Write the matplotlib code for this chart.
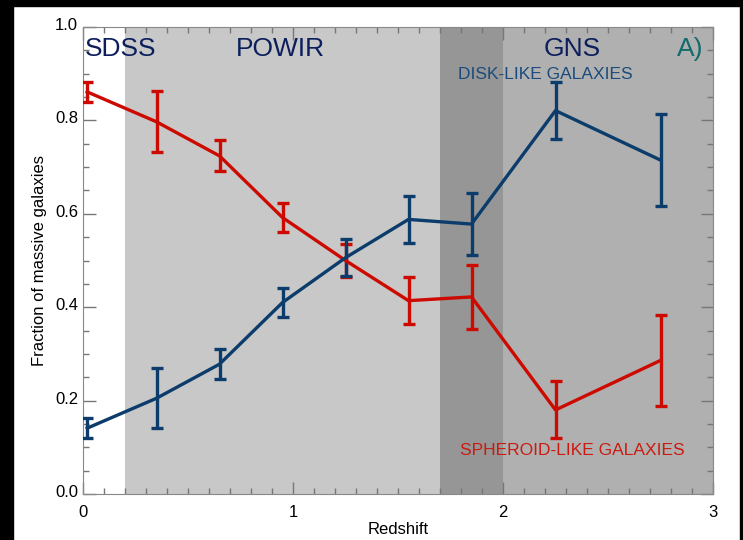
import matplotlib
matplotlib.use('Agg')
import matplotlib.pyplot as plt
import matplotlib.transforms as mtransforms
from matplotlib.ticker import MultipleLocator

plt.rcParams['font.family'] = ['Liberation Sans', 'DejaVu Sans']

# data
redshift = [0.02, 0.35, 0.65, 0.95, 1.25, 1.55, 1.85, 2.25, 2.75]
spheroid = [0.861, 0.797, 0.724, 0.592, 0.500, 0.414, 0.422, 0.180, 0.286]
spheroid_err = [0.022, 0.065, 0.033, 0.031, 0.035, 0.051, 0.068, 0.061, 0.097]
disk = [0.141, 0.205, 0.278, 0.410, 0.506, 0.588, 0.578, 0.821, 0.715]
disk_err = [0.022, 0.064, 0.032, 0.031, 0.040, 0.050, 0.066, 0.061, 0.098]

# survey coverage bands (start, end, colour)
surveys = [(0.2, 1.7, '#c8c8c8'), (1.7, 2.0, '#969696'), (2.0, 3.0, '#b0b0b0')]

blue = '#0b3c6b'
red = '#cc0a00'

fig = plt.figure(figsize=(7.43, 5.40), dpi=100)
# black frame edges like the original screenshot
fig.patches.append(plt.Rectangle((0, 0), 13 / 743, 1, transform=fig.transFigure, color='black', zorder=-1))
fig.patches.append(plt.Rectangle((0, 1 - 6 / 540), 1, 6 / 540, transform=fig.transFigure, color='black', zorder=-1))
fig.patches.append(plt.Rectangle((740 / 743, 0), 3 / 743, 1, transform=fig.transFigure, color='black', zorder=-1))

ax = fig.add_axes([83 / 743, 1 - 494 / 540, 630 / 743, 467 / 540])

for x0, x1, c in surveys:
    ax.axvspan(x0, x1, color=c, lw=0, zorder=0)

ax.errorbar(redshift, spheroid, yerr=spheroid_err, color=red, lw=2.4,
            elinewidth=2.4, capsize=4, capthick=2.4, zorder=3)
ax.errorbar(redshift, disk, yerr=disk_err, color=blue, lw=2.4,
            elinewidth=2.4, capsize=4, capthick=2.4, zorder=3)

ax.text(0.01, 0.952, 'SDSS', color='#0c1f5c', fontsize=19, va='center', ha='left')
ax.text(0.94, 0.952, 'POWIR', color='#0c1f5c', fontsize=19, va='center', ha='center')
ax.text(2.33, 0.952, 'GNS', color='#0c1f5c', fontsize=19, va='center', ha='center')
ax.text(2.89, 0.952, 'A)', color='#136b6b', fontsize=19, va='center', ha='center')
ax.text(2.2, 0.898, 'DISK-LIKE GALAXIES', color='#1a4b7c', fontsize=12.5, va='center', ha='center')
ax.text(2.33, 0.094, 'SPHEROID-LIKE GALAXIES', color='#cc1a10', fontsize=12.5, va='center', ha='center')

ax.set_xlim(0, 3)
ax.set_ylim(0, 1)
ax.xaxis.set_major_locator(MultipleLocator(1))
ax.xaxis.set_minor_locator(MultipleLocator(0.1))
ax.yaxis.set_major_locator(MultipleLocator(0.2))
ax.yaxis.set_minor_locator(MultipleLocator(0.05))
ax.xaxis.set_major_formatter(plt.FuncFormatter(lambda v, p: f'{v:.0f}'))
ax.yaxis.set_major_formatter(plt.FuncFormatter(lambda v, p: f'{v:.1f}'))
ax.tick_params(which='both', direction='in', top=True, right=True, color='#777777', labelsize=12)
ax.tick_params(which='major', length=9, width=1)
ax.tick_params(which='minor', length=4.5, width=1)
ax.tick_params(axis='x', pad=8)
for s in ax.spines.values():
    s.set_color('#888888')

# y tick labels sit a little above their ticks in the original
shift = mtransforms.ScaledTranslation(0, 3 / 100, fig.dpi_scale_trans)
for lab in ax.get_yticklabels():
    lab.set_transform(lab.get_transform() + shift)

ax.set_xlabel('Redshift', fontsize=12, labelpad=1)
ax.set_ylabel('Fraction of massive galaxies', fontsize=12, labelpad=6)

fig.savefig('out.png', dpi=100)
